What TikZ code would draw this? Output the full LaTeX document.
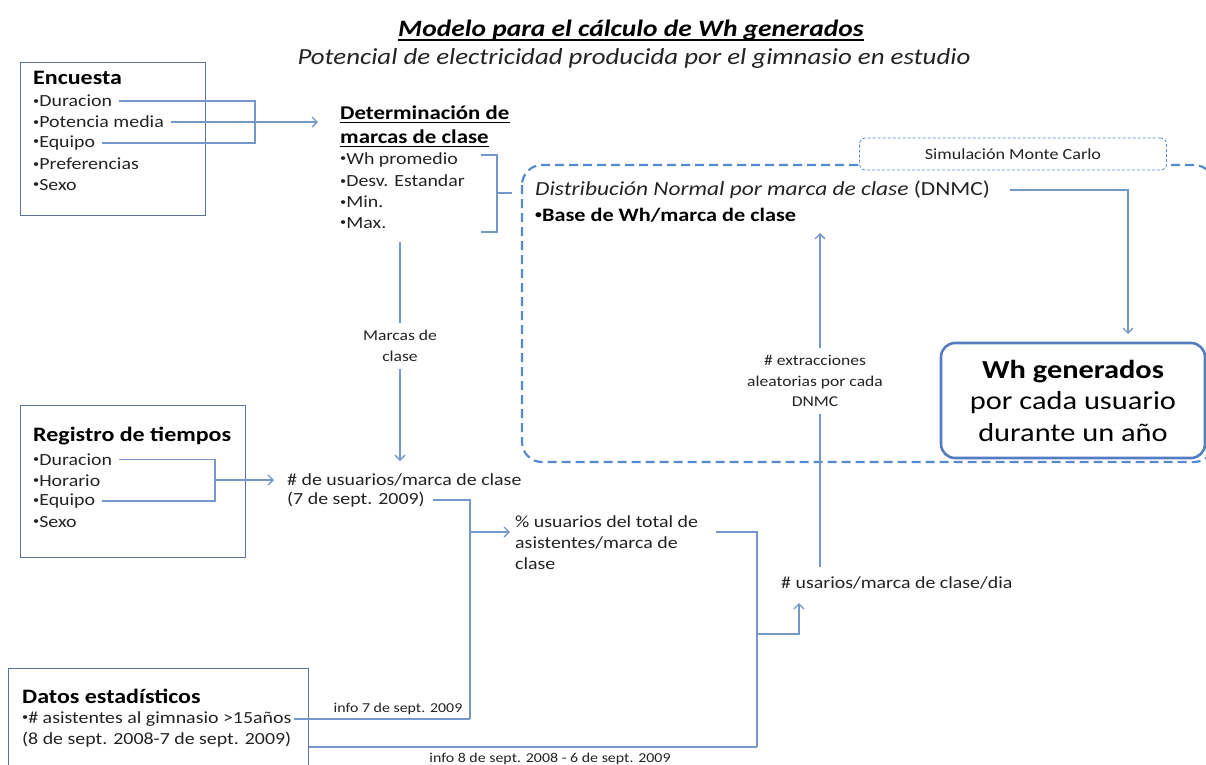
\documentclass[tikz,border=0pt]{standalone}
\usepackage{fontspec}
\setmainfont{Carlito}[FakeStretch=1.17]
\usepackage{graphicx}
\usepackage{tikz}
\usetikzlibrary{arrows.meta,positioning}

\definecolor{lineblue}{RGB}{116,152,202}
\definecolor{boxblue}{RGB}{92,116,156}
\definecolor{dashblue}{RGB}{86,138,208}
\definecolor{whblue}{RGB}{84,124,192}
\definecolor{txtgray}{RGB}{35,35,35}

% small raised bullet
\newcommand{\bul}{\raisebox{0.15em}{\scalebox{0.62}{\textbullet}}}

\tikzset{
  link/.style={draw=lineblue, line width=1.3pt},
  flow/.style={link, -{Straight Barb[length=5pt,width=10pt]}},
  srcbox/.style={draw=boxblue, line width=1.4pt, anchor=north west, inner sep=0pt},
  txt/.style={inner sep=0pt, anchor=west, text=txtgray, font=\fontsize{17}{20}\selectfont},
  head/.style={inner sep=0pt, anchor=west, text=black, font=\fontsize{20.5}{22}\selectfont\bfseries},
  lbl/.style={inner sep=7pt, align=center, text=txtgray, font=\fontsize{15}{20.5}\selectfont},
  small/.style={inner sep=0pt, text=txtgray, font=\fontsize{13.6}{15}\selectfont},
  dashbox/.style={draw=dashblue, line width=2.2pt, dash pattern=on 9pt off 5pt, rounded corners=20pt},
  simtag/.style={draw=dashblue, densely dashed, line width=0.8pt, rounded corners=6pt, fill=white,
    minimum width=307pt, minimum height=32pt, text=txtgray, font=\fontsize{15.5}{17}\selectfont},
  whbox/.style={draw=whblue, line width=2.6pt, rounded corners=14pt, fill=white, align=center,
    minimum width=264pt, minimum height=115pt, font=\fontsize{26}{31.5}\selectfont},
}

\begin{document}
\begin{tikzpicture}[x=1pt,y=-1pt]
\useasboundingbox (0,0) rectangle (1206,764);

% Title
\node[inner sep=0pt] (title) at (631,30) {\fontsize{23.5}{26}\selectfont\bfseries\itshape Modelo para el cálculo de Wh generados};
\draw[line width=1.8pt] ([yshift=-4pt]title.base west) -- ([yshift=-4pt]title.base east);
\node[text=txtgray] (subtitle) at (634,58) {\fontsize{23}{26}\selectfont\itshape Potencial de electricidad producida por el gimnasio en estudio};

% Simulation frame (drawn first, cut by the page edge)
\draw[dashbox] (522,165) rectangle (1214,462);
\node[simtag] (simTag) at (1013,154) {Simulación Monte Carlo};

% Encuesta
\node[srcbox, minimum width=185pt, minimum height=153pt] (encuesta) at (20,62) {};
\node[head] (encT) at (33,78) {Encuesta};
\foreach \t [count=\i] in {Duracion,Potencia media,Equipo,Preferencias,Sexo}
  \node[txt] (enc\i) at (33,{80+21*\i}) {\bul\t};

% Determinacion de marcas de clase
\node[head, font=\fontsize{19.5}{24}\selectfont\bfseries] (detT1) at (340,113) {Determinación de};
\node[head, font=\fontsize{19.5}{24}\selectfont\bfseries] (detT2) at (340,137) {marcas de clase};
\foreach \n in {detT1,detT2}
  \draw[line width=1.1pt] ([yshift=-3pt]\n.base west) -- ([yshift=-3pt]\n.base east);
\foreach \t [count=\i] in {Wh promedio,Desv. Estandar,Min.,Max.}
  \node[txt] (det\i) at (340,{139+21*\i}) {\bul\t};
\draw[link] (481,155) -- (497,155) -- (497,232) -- (481,232);
\draw[link] (497,193) -- (512,193);

% Registro de tiempos
\node[srcbox, minimum width=225pt, minimum height=152pt] (registro) at (20,405) {};
\node[head] (regT) at (33,436) {Registro de tiempos};
\foreach \t [count=\i] in {Duracion,Horario,Equipo,Sexo}
  \node[txt] (reg\i) at (33,{439+20.7*\i}) {\bul\t};

% Datos estadisticos
\node[srcbox, minimum width=300pt, minimum height=110pt] (datos) at (8,668) {};
\node[head] (datT) at (22,696) {Datos estadísticos};
\node[txt] (dat1) at (22,719) {\bul\# asistentes al gimnasio >15años};
\node[txt] (dat2) at (22,740) {(8 de sept. 2008-7 de sept. 2009)};

% Intermediate results
\node[txt] (usr1) at (287,480) {\# de usuarios/marca de clase};
\node[txt] (usr2) at (287,500) {(7 de sept. 2009)};
\node[txt] (pct1) at (515,522) {\% usuarios del total de};
\node[txt] (pct2) at (515,543) {asistentes/marca de};
\node[txt] (pct3) at (515,564) {clase};
\node[txt] (dia) at (781,583) {\# usarios/marca de clase/dia};

% Inside the simulation
\node[txt, font=\fontsize{20}{22}\selectfont] (dnmc) at (535,190) {\itshape Distribución Normal por marca de clase \upshape(DNMC)};
\node[txt, text=black, font=\fontsize{19}{22}\selectfont\bfseries] (base) at (535,215) {\bul Base de Wh/marca de clase};
\node[whbox] (wh) at (1073,400.5) {{\bfseries Wh generados}\\por cada usuario\\durante un año};

% Labels on the connectors
\node[lbl] (marcas) at (400,346) {Marcas de\\clase};
\node[lbl] (extr) at (815,381) {\# extracciones\\aleatorias por cada\\DNMC};
\node[small] (info1) at (398,709) {info 7 de sept. 2009};
\node[small] (info2) at (550,759) {info 8 de sept. 2008 - 6 de sept. 2009};

% Join points
\coordinate (encJoin) at (255,122);
\coordinate (detIn) at (318,122);
\coordinate (detOut) at (400,242);
\coordinate (usrIn) at (400,461);
\coordinate (regJoin) at (215,480);
\coordinate (usrArr) at (274,480);
\coordinate (pctJoin) at (470,719);
\coordinate (pctIn) at (510,532);
\coordinate (pctOut) at (716,532);
\coordinate (diaJoin) at (757,747);
\coordinate (diaSplit) at (757,634);
\coordinate (diaIn) at (799,603);
\coordinate (diaOut) at (820,567);
\coordinate (baseIn) at (820,233);
\coordinate (whIn) at (1128,334);

% Connectors
\draw[link] ([xshift=7pt]enc1.east) -| (encJoin) |- ([xshift=7pt]enc3.east);
\draw[flow] ([xshift=7pt]enc2.east) -- (detIn);
\draw[link] (detOut) -- (marcas.north);
\draw[flow] (marcas.south) -- (usrIn);
\draw[link] ([xshift=7pt]reg1.east) -| (regJoin) |- ([xshift=7pt]reg3.east);
\draw[flow] (regJoin) -- (usrArr);
\draw[link] ([xshift=8pt]usr2.east) -| (pctJoin);
\draw[link] ([xshift=2pt]dat1.east) -- (pctJoin);
\draw[flow] (pctJoin |- pctIn) -- (pctIn);
\draw[link] (pctOut) -| (diaJoin);
\draw[link] (datos.east |- diaJoin) -- (diaJoin);
\draw[flow] (diaSplit) -| (diaIn);
\draw[link] (diaOut) -- (diaOut |- extr.south);
\draw[flow] (baseIn |- extr.north) -- (baseIn);
\draw[flow] ([xshift=20pt]dnmc.east) -| (whIn);
\end{tikzpicture}
\end{document}
